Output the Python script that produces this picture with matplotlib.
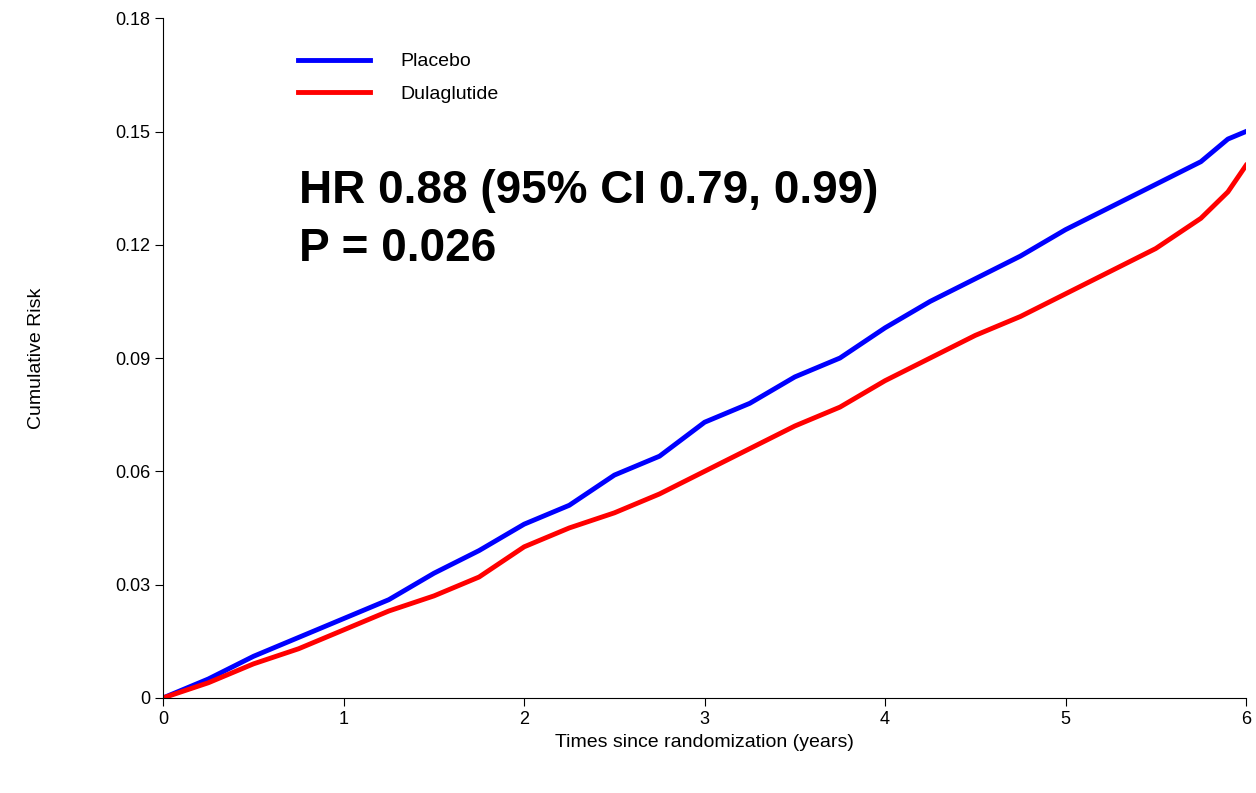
import matplotlib
matplotlib.use("Agg")
import matplotlib.pyplot as plt

plt.rcParams["font.family"] = ["Liberation Sans", "DejaVu Sans"]

years = [0, 0.25, 0.5, 0.75, 1.0, 1.25, 1.5, 1.75, 2.0, 2.25, 2.5, 2.75, 3.0, 3.25,
         3.5, 3.75, 4.0, 4.25, 4.5, 4.75, 5.0, 5.25, 5.5, 5.75, 5.9, 6.0]
placebo = [0, 0.005, 0.011, 0.016, 0.021, 0.026, 0.033, 0.039, 0.046, 0.051, 0.059, 0.064,
           0.073, 0.078, 0.085, 0.090, 0.098, 0.105, 0.111, 0.117, 0.124, 0.130, 0.136,
           0.142, 0.148, 0.150]
dulaglutide = [0, 0.004, 0.009, 0.013, 0.018, 0.023, 0.027, 0.032, 0.040, 0.045, 0.049, 0.054,
               0.060, 0.066, 0.072, 0.077, 0.084, 0.090, 0.096, 0.101, 0.107, 0.113, 0.119,
               0.127, 0.134, 0.141]

fig = plt.figure(figsize=(12.56, 7.93), dpi=100)
ax = fig.add_axes([0.130, 0.120, 0.862, 0.857])
ax.plot(years, placebo, color="#0000ff", lw=3.5, label="Placebo")
ax.plot(years, dulaglutide, color="#ff0000", lw=3.5, label="Dulaglutide")

ax.set_xlim(0, 6)
ax.set_ylim(0, 0.18)
ax.set_xticks(range(7))
ax.set_yticks([0, 0.03, 0.06, 0.09, 0.12, 0.15, 0.18])
ax.set_yticklabels(["0", "0.03", "0.06", "0.09", "0.12", "0.15", "0.18"])
ax.tick_params(labelsize=13, length=6)
for s in ("top", "right"):
    ax.spines[s].set_visible(False)
ax.set_xlabel("Times since randomization (years)", fontsize=14)
ax.set_ylabel("Cumulative Risk", fontsize=14, labelpad=50)

ax.legend(loc="upper left", bbox_to_anchor=(0.108, 0.975), frameon=False, fontsize=14,
          handlelength=3.7, handletextpad=1.6, labelspacing=0.75)
ax.text(0.125, 0.746, "HR 0.88 (95% CI 0.79, 0.99)", transform=ax.transAxes,
        fontsize=33, fontweight="bold", va="center")
ax.text(0.125, 0.661, "P = 0.026", transform=ax.transAxes,
        fontsize=33, fontweight="bold", va="center")

fig.savefig("out.png", dpi=100)
